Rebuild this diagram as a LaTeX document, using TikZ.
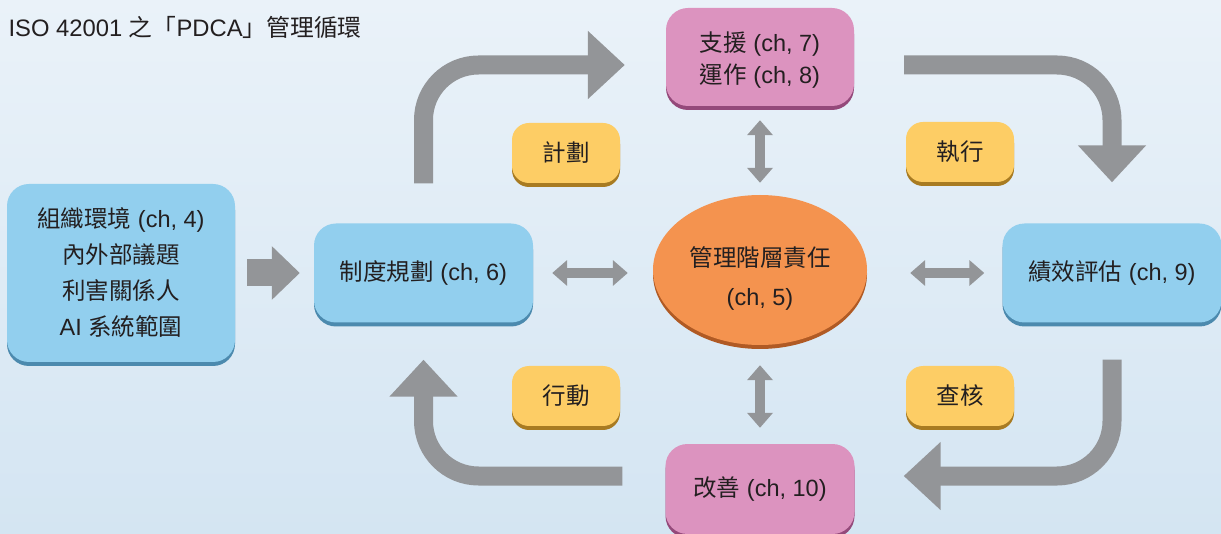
\documentclass[tikz,border=0pt]{standalone}
\usepackage{fontspec}
\setmainfont{Liberation Sans}
\newfontfamily\cjk{Noto Sans CJK TC}
\newcommand\zh[1]{{\cjk #1}}
\usetikzlibrary{arrows.meta,shapes.geometric,shadows}
\definecolor{bgtop}{HTML}{EAF2F9}
\definecolor{bgbot}{HTML}{D4E5F2}
\definecolor{txt}{HTML}{231F20}
\definecolor{blueF}{HTML}{92CFEE}
\definecolor{blueS}{HTML}{4C8AAE}
\definecolor{pinkF}{HTML}{DC93BF}
\definecolor{pinkS}{HTML}{94497A}
\definecolor{yelF}{HTML}{FDCD65}
\definecolor{yelS}{HTML}{A87B22}
\definecolor{orF}{HTML}{F4934F}
\definecolor{orS}{HTML}{B05A24}
\definecolor{arrowgray}{HTML}{939598}
\tikzset{
  basefont/.style={font=\fontsize{23.5}{36}\selectfont, text=txt, align=center},
  boxbase/.style={basefont, rounded corners=22pt, inner sep=0pt},
  bluebox/.style={boxbase, fill=blueF, drop shadow={shadow xshift=0pt, shadow yshift=-4pt, fill=blueS, opacity=1}},
  pinkbox/.style={boxbase, fill=pinkF, drop shadow={shadow xshift=0pt, shadow yshift=-4pt, fill=pinkS, opacity=1}},
  ybox/.style={boxbase, rounded corners=17pt, fill=yelF, minimum width=108pt, minimum height=60pt,
    drop shadow={shadow xshift=0pt, shadow yshift=-4pt, fill=yelS, opacity=1}},
  bigarrow/.style={draw=arrowgray, line width=19pt, rounded corners=55pt, -{Triangle[width=66pt,length=37pt]}},
  dblarrow/.style={draw=arrowgray, line width=10pt, {Triangle[width=25pt,length=15pt]}-{Triangle[width=25pt,length=15pt]}}
}
\begin{document}
\begin{tikzpicture}[x=1pt,y=-1pt]
\fill[top color=bgtop, bottom color=bgbot] (0,0) rectangle (1221,534);
\useasboundingbox (0,0) rectangle (1221,534);

\node[anchor=west, font=\fontsize{23.8}{28}\selectfont, text=txt] (title) at (5,27)
  {ISO 42001 \zh{之「}PDCA\zh{」管理循環}};

\node[bluebox, minimum width=228pt, minimum height=178pt] (ctx) at (121,273)
  {\zh{組織環境} (ch, 4)\\\zh{內外部議題}\\\zh{利害關係人}\\AI \zh{系統範圍}};
\node[bluebox, minimum width=219pt, minimum height=99pt] (plan) at (423.5,273)
  {\zh{制度規劃} (ch, 6)};
\node[bluebox, minimum width=219pt, minimum height=99pt] (perf) at (1112,273)
  {\zh{績效評估} (ch, 9)};
\node[pinkbox, minimum width=188pt, minimum height=98pt,
  label={[basefont, font=\fontsize{23.5}{32}\selectfont, yshift=-3pt]center:\zh{支援} (ch, 7)\\\zh{運作} (ch, 8)}] (sup) at (760,57) {};
\node[pinkbox, minimum width=189pt, minimum height=90pt] (imp) at (760,489)
  {\zh{改善} (ch, 10)};
\node[ellipse, inner sep=0pt, minimum width=214pt, minimum height=150pt, fill=orF,
  drop shadow={shadow xshift=0pt, shadow yshift=-4pt, fill=orS, opacity=1},
  label={[basefont, font=\fontsize{23.5}{39}\selectfont, yshift=-8pt]center:\zh{管理階層責任}\\(ch, 5)}] (mgmt) at (760,270) {};

\node[ybox] (lplan) at (566,153) {\zh{計劃}};
\node[ybox] (ldo) at (960,152) {\zh{執行}};
\node[ybox] (lact) at (566,396) {\zh{行動}};
\node[ybox] (lchk) at (960,396) {\zh{查核}};

% big cycle arrows
\draw[bigarrow] ([yshift=40pt]plan.north) |- ([xshift=-41pt,yshift=-8pt]sup.west);
\draw[bigarrow] ([xshift=50pt,yshift=-8pt]sup.east) -| ([yshift=41pt]perf.north);
\draw[bigarrow] ([yshift=-37pt]perf.south) |- ([xshift=49pt,yshift=13pt]imp.east);
\draw[bigarrow] ([xshift=-43pt,yshift=13pt]imp.west) -| ([yshift=-37pt]plan.south);

% fat arrow context -> planning
\draw[draw=arrowgray, line width=27pt, -{Triangle[width=52pt,length=28pt]}]
  ([xshift=12pt]ctx.east) -- ([xshift=-14pt]plan.west);

% double arrows
\coordinate (mw) at ([xshift=-25pt]mgmt.west);
\coordinate (me) at ([xshift=43pt]mgmt.east);
\draw[dblarrow] ([xshift=19pt]plan.east) -- (mw |- plan.east);
\draw[dblarrow] (me |- perf.west) -- ([xshift=-18pt]perf.west);
\draw[dblarrow] ([yshift=-14pt]sup.south) -- ([yshift=12pt]mgmt.north);
\draw[dblarrow] ([yshift=-20pt]mgmt.south) -- ([yshift=16pt]imp.north);
\end{tikzpicture}
\end{document}
